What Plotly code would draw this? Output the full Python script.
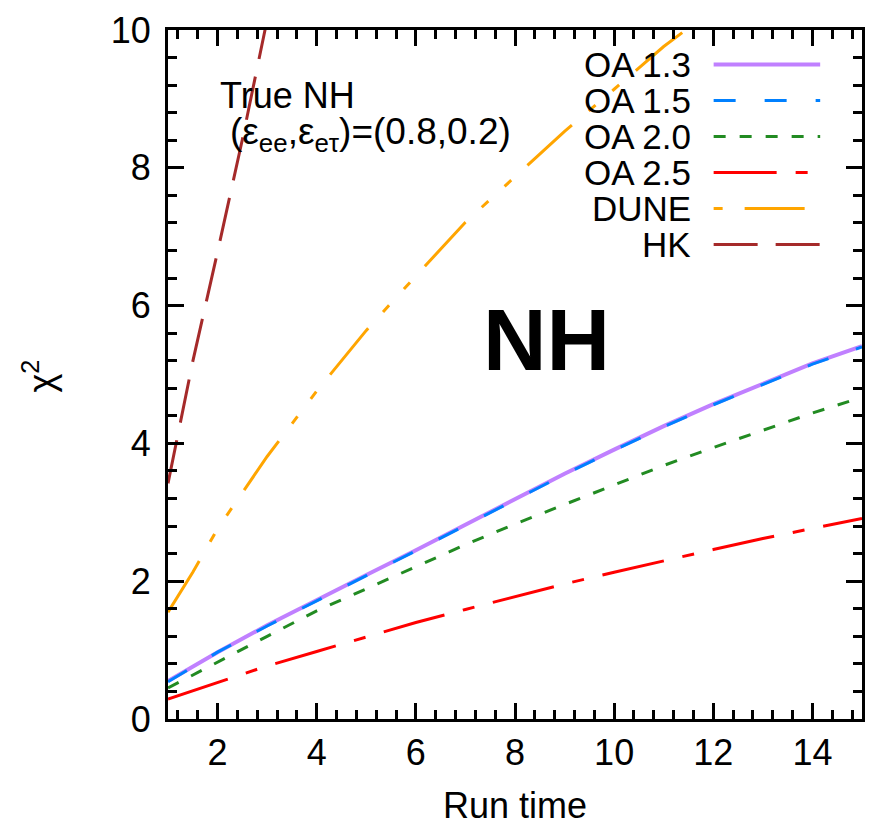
import plotly.graph_objects as go

# ---- data -------------------------------------------------------------
run_time = [1, 2, 3, 4, 5, 6, 7, 8, 9, 10, 11, 12, 13, 14, 15]
chi2_oa13 = [0.55, 0.97, 1.36, 1.73, 2.09, 2.45, 2.82, 3.20, 3.56, 3.91, 4.25, 4.57, 4.87, 5.16, 5.41]
chi2_oa15 = [0.54, 0.97, 1.35, 1.72, 2.08, 2.44, 2.81, 3.19, 3.55, 3.90, 4.24, 4.56, 4.86, 5.15, 5.40]
chi2_oa20 = [0.45, 0.83, 1.20, 1.57, 1.89, 2.21, 2.53, 2.83, 3.11, 3.40, 3.68, 3.94, 4.19, 4.44, 4.67]
chi2_oa25 = [0.29, 0.53, 0.77, 0.98, 1.19, 1.40, 1.59, 1.78, 1.96, 2.13, 2.30, 2.46, 2.62, 2.77, 2.91]

dune_time = [1, 1.5, 2, 3, 4, 5, 6, 7, 8, 9, 10, 11, 12]
chi2_dune = [1.55, 2.13, 2.76, 3.81, 4.76, 5.64, 6.43, 7.21, 7.87, 8.53, 9.14, 9.76, 10.30]

hk_time = [1, 1.5, 2, 2.5, 3]
chi2_hk = [3.42, 5.19, 6.78, 8.41, 10.15]

series_names = ["OA 1.3", "OA 1.5", "OA 2.0", "OA 2.5", "DUNE", "HK"]
x_ticks = [2, 4, 6, 8, 10, 12, 14]
y_ticks = [0, 2, 4, 6, 8, 10]

# ---- styles -----------------------------------------------------------
FONT = "Liberation Sans, Arial, sans-serif"
styles = {
    "OA 1.3": dict(color="#C080FF", width=4, dash="solid"),
    "OA 1.5": dict(color="#0080FF", width=3, dash="22px,29px"),
    "OA 2.0": dict(color="#228B22", width=3, dash="12px,14px"),
    "OA 2.5": dict(color="#FF0000", width=3, dash="63px,19px,12px,19px"),
    "DUNE":   dict(color="#FFA500", width=3, dash="60px,22px,9px,22px,9px,22px"),
    "HK":     dict(color="#A52A2A", width=3, dash="44px,18px"),
}
legend_dash = {
    "OA 1.3": "solid",
    "OA 1.5": "22px,29px",
    "OA 2.0": "12px,14px",
    "OA 2.5": "63px,19px,12px,19px",
    "DUNE": "9px,22px,60px,22px,9px,22px",
    "HK": "44px,18px",
}

series_data = {
    "OA 1.3": (run_time, chi2_oa13),
    "OA 1.5": (run_time, chi2_oa15),
    "OA 2.0": (run_time, chi2_oa20),
    "OA 2.5": (run_time, chi2_oa25),
    "DUNE": (dune_time, chi2_dune),
    "HK": (hk_time, chi2_hk),
}

# plot-area geometry (pixels)
PLOT_L, PLOT_R, PLOT_T, PLOT_B = 168, 865, 22, 719
W, H = 875, 829


def px_x(p):
    return (p - PLOT_L) / (PLOT_R - PLOT_L)


def px_y(p):
    return (PLOT_B - p) / (PLOT_B - PLOT_T)


fig = go.Figure()
for name in series_names:
    xs, ys = series_data[name]
    fig.add_trace(go.Scatter(
        x=xs, y=ys, mode="lines", name=name,
        line=styles[name], showlegend=False,
    ))

annotations = []
shapes = []

# key: label on the left, line sample on the right
for i, name in enumerate(series_names):
    yc = 57 + 36.4 * i
    annotations.append(dict(
        x=px_x(695), y=px_y(yc), xref="paper", yref="paper",
        text=name, showarrow=False, xanchor="right", yanchor="middle",
        font=dict(family=FONT, size=35, color="black"),
    ))
    st = styles[name]
    shapes.append(dict(
        type="line", xref="paper", yref="paper",
        x0=px_x(716), x1=px_x(823), y0=px_y(yc), y1=px_y(yc),
        line=dict(color=st["color"], width=st["width"], dash=legend_dash[name]),
    ))

annotations += [
    dict(x=px_x(218), y=px_y(88), xref="paper", yref="paper",
         text="True NH", showarrow=False, xanchor="left", yanchor="middle",
         font=dict(family=FONT, size=36, color="black")),
    dict(x=px_x(228), y=px_y(127), xref="paper", yref="paper",
         text="(ε<sub>ee</sub>,ε<sub>eτ</sub>)=(0.8,0.2)", showarrow=False,
         xanchor="left", yanchor="middle",
         font=dict(family=FONT, size=37, color="black")),
    dict(x=px_x(548), y=px_y(335), xref="paper", yref="paper",
         text="<b>NH</b>", showarrow=False, xanchor="center", yanchor="middle",
         font=dict(family=FONT, size=88, color="black")),
    dict(x=px_x(38), y=px_y(372), xref="paper", yref="paper",
         text="χ<sup>2</sup>", showarrow=False, textangle=-90,
         xanchor="center", yanchor="middle",
         font=dict(family=FONT, size=36, color="black")),
    dict(x=px_x(517), y=px_y(806), xref="paper", yref="paper",
         text="Run time", showarrow=False, xanchor="center", yanchor="middle",
         font=dict(family=FONT, size=36, color="black")),
]

axis_common = dict(
    showline=True, linewidth=3, linecolor="black", mirror="ticks",
    ticks="inside", ticklen=16, tickwidth=3, tickcolor="black",
    showgrid=False, zeroline=False,
    tickfont=dict(family=FONT, size=36, color="black"),
    minor=dict(dtick=0.4, tick0=0, ticks="inside", ticklen=9, tickwidth=3,
               tickcolor="black", showgrid=False),
)

fig.update_layout(
    width=W, height=H, autosize=False,
    margin=dict(l=PLOT_L, r=W - PLOT_R, t=PLOT_T, b=H - PLOT_B, pad=0),
    paper_bgcolor="white", plot_bgcolor="white",
    xaxis=dict(range=[1, 15], tickvals=x_ticks, ticklabelstandoff=0, **axis_common),
    yaxis=dict(range=[0, 10], tickvals=y_ticks, ticklabelstandoff=7, **axis_common),
    annotations=annotations, shapes=shapes,
)

fig.write_html("out.html")
